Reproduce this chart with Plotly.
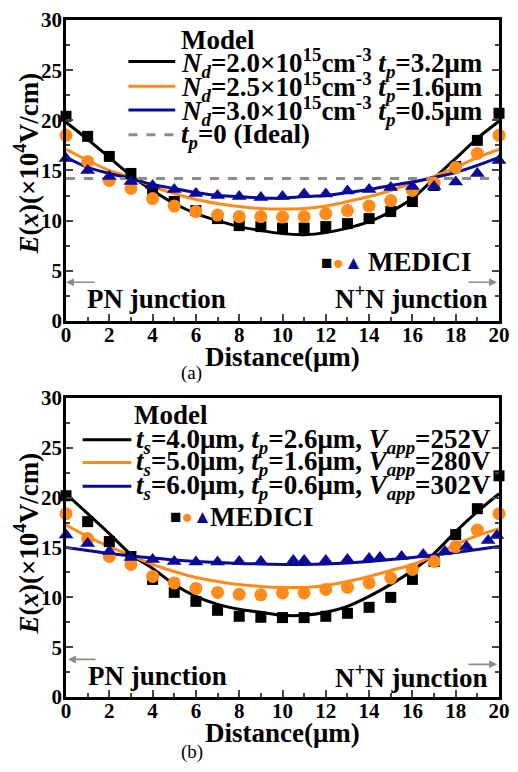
import plotly.graph_objects as go

# ---------------- data ----------------
x_pts = list(range(0, 21))

# (a) MEDICI points
a_med_black = [20.4, 18.4, 16.4, 14.7, 13.0, 11.9, 11.0, 10.2, 9.5, 9.4, 9.25, 9.25, 9.4, 9.7, 10.2, 10.9, 11.9, 13.5, 15.4, 18.0, 20.7]
a_med_orange = [18.5, 15.9, 14.0, 13.2, 12.2, 11.45, 10.9, 10.55, 10.4, 10.4, 10.35, 10.4, 10.7, 11.0, 11.45, 12.0, 13.0, 13.75, 15.3, 16.7, 18.5]
a_med_blue = [16.2, 15.0, 14.4, 13.9, 13.5, 13.1, 12.7, 12.5, 12.4, 12.3, 12.4, 12.65, 12.65, 12.95, 13.1, 13.3, 13.4, 13.4, 13.85, 14.7, 16.0]
# (a) model curves
a_mod_black = [19.8, 18.1, 16.3, 14.5, 13.0, 11.7, 10.7, 10.0, 9.4, 9.0, 8.7, 8.6, 8.8, 9.25, 9.9, 10.9, 12.2, 14.2, 16.2, 18.2, 19.9]
a_mod_orange = [17.1, 16.0, 15.0, 14.3, 13.4, 12.7, 12.1, 11.7, 11.4, 11.2, 11.15, 11.2, 11.45, 11.9, 12.4, 13.0, 13.75, 14.4, 15.3, 16.3, 17.1]
a_mod_blue = [16.3, 15.3, 14.7, 14.2, 13.6, 13.2, 12.8, 12.5, 12.4, 12.25, 12.25, 12.4, 12.5, 12.8, 13.1, 13.5, 13.85, 14.3, 14.8, 15.5, 16.3]
ideal_x = [0, 20]
ideal_y = [14.2, 14.2]

# (b) MEDICI points
b_med_black = [20.2, 17.6, 15.6, 14.1, 11.8, 10.5, 9.6, 8.7, 8.1, 8.0, 7.97, 7.97, 8.1, 8.4, 9.0, 10.0, 11.8, 13.6, 16.3, 18.9, 22.2]
b_med_orange = [18.4, 15.9, 14.1, 13.3, 12.1, 11.45, 10.9, 10.5, 10.3, 10.25, 10.45, 10.45, 10.8, 11.0, 11.45, 11.95, 12.8, 13.6, 15.1, 16.75, 18.4]
b_med_blue_x = [0, 1, 2, 3, 4, 5, 6, 7, 8, 9, 10.5, 11, 12, 13, 14, 14.5, 15.5, 16.5, 17.5, 18.5, 19.5, 19.9]
b_med_blue = [16.25, 15.4, 14.6, 14.0, 13.8, 13.6, 13.55, 13.55, 13.6, 13.6, 13.7, 13.7, 13.7, 13.8, 13.9, 14.0, 14.1, 14.3, 14.6, 15.1, 15.7, 16.2]
# (b) model curves
b_mod_black = [20.4, 18.4, 16.4, 14.3, 12.9, 11.3, 10.1, 9.3, 8.8, 8.5, 8.2, 8.2, 8.5, 9.1, 10.1, 11.3, 12.7, 14.4, 16.6, 18.6, 20.4]
b_mod_orange = [17.25, 16.1, 15.1, 14.2, 13.3, 12.6, 12.0, 11.6, 11.3, 11.1, 11.0, 11.0, 11.2, 11.6, 12.1, 12.7, 13.3, 14.2, 15.3, 16.2, 16.9]
b_mod_blue = [15.0, 14.7, 14.4, 14.15, 13.95, 13.75, 13.6, 13.5, 13.4, 13.35, 13.3, 13.3, 13.35, 13.45, 13.6, 13.8, 14.0, 14.25, 14.5, 14.8, 15.1]

legend_a = [
    "<i>N</i><sub><i>d</i></sub>=2.0×10<sup>15</sup>cm<sup>-3</sup> <i>t</i><sub><i>p</i></sub>=3.2μm",
    "<i>N</i><sub><i>d</i></sub>=2.5×10<sup>15</sup>cm<sup>-3</sup> <i>t</i><sub><i>p</i></sub>=1.6μm",
    "<i>N</i><sub><i>d</i></sub>=3.0×10<sup>15</sup>cm<sup>-3</sup> <i>t</i><sub><i>p</i></sub>=0.5μm",
    "<i>t</i><sub><i>p</i></sub>=0 (Ideal)",
]
legend_b = [
    "<i>t</i><sub><i>s</i></sub>=4.0μm, <i>t</i><sub><i>p</i></sub>=2.6μm, <i>V</i><sub><i>app</i></sub>=252V",
    "<i>t</i><sub><i>s</i></sub>=5.0μm, <i>t</i><sub><i>p</i></sub>=1.6μm, <i>V</i><sub><i>app</i></sub>=280V",
    "<i>t</i><sub><i>s</i></sub>=6.0μm, <i>t</i><sub><i>p</i></sub>=0.6μm, <i>V</i><sub><i>app</i></sub>=302V",
]

BLACK = "#000000"
ORANGE = "#FF8C1A"
BLUE = "#0A0A9A"
GRAY = "#8C8C8C"
FONT = "Liberation Serif"

fig = go.Figure()

def add_panel(xa, ya, mods, meds, ideal=None):
    for yv, col in mods:
        fig.add_trace(go.Scatter(x=x_pts, y=yv, mode="lines", line=dict(color=col, width=3, shape="spline", smoothing=0.8),
                                 xaxis=xa, yaxis=ya, showlegend=False, hoverinfo="skip"))
    if ideal is not None:
        fig.add_trace(go.Scatter(x=ideal_x, y=ideal_y, mode="lines", line=dict(color=GRAY, width=3, dash="dash"),
                                 xaxis=xa, yaxis=ya, showlegend=False))
    for xv, yv, col, sym, sz in meds:
        fig.add_trace(go.Scatter(x=xv, y=yv, mode="markers", marker=dict(color=col, symbol=sym, size=sz),
                                 xaxis=xa, yaxis=ya, showlegend=False, cliponaxis=False))

add_panel("x", "y",
          [(a_mod_black, BLACK), (a_mod_orange, ORANGE), (a_mod_blue, BLUE)],
          [(x_pts, a_med_black, BLACK, "square", 11), (x_pts, a_med_orange, ORANGE, "circle", 13),
           (x_pts, a_med_blue, BLUE, "triangle-up", 13)], ideal=True)
add_panel("x2", "y2",
          [(b_mod_black, BLACK), (b_mod_orange, ORANGE), (b_mod_blue, BLUE)],
          [(x_pts, b_med_black, BLACK, "square", 11), (x_pts, b_med_orange, ORANGE, "circle", 13),
           (b_med_blue_x, b_med_blue, BLUE, "triangle-up", 13)])

H = 772
T, B, L, R = 13, 75, 66, 8
PH = H - T - B
PW = 518 - L - R

def py(p):  # pixel y -> paper
    return (H - B - p) / PH

def px(p):
    return (p - L) / PW

xax = dict(range=[0, 20], dtick=2, tick0=0, ticks="inside", ticklen=7, tickwidth=2, showline=True, linewidth=2.5,
           linecolor="black", mirror=True, showgrid=False, zeroline=False, ticklabelstandoff=-7,
           tickfont=dict(family=FONT, size=21, color="black", weight="bold"),
           minor=dict(ticks="inside", ticklen=4, tickwidth=2, dtick=1, showgrid=False))
yax = dict(range=[0, 30], dtick=5, tick0=0, ticks="inside", ticklen=7, tickwidth=2, showline=True, linewidth=2.5,
           linecolor="black", mirror="ticks", showgrid=False, zeroline=False, ticklabelstandoff=-3,
           tickfont=dict(family=FONT, size=21, color="black", weight="bold"),
           minor=dict(ticks="inside", ticklen=4, tickwidth=2, dtick=2.5, showgrid=False))

top_dom = [py(317), 1.0]
bot_dom = [0.0, py(395)]

fig.update_layout(
    width=518, height=H, margin=dict(l=L, r=R, t=T, b=B),
    paper_bgcolor="white", plot_bgcolor="white", showlegend=False,
    xaxis=dict(xax, anchor="y"), yaxis=dict(yax, domain=top_dom, anchor="x"),
    xaxis2=dict(xax, anchor="y2"), yaxis2=dict(yax, domain=bot_dom, anchor="x2"),
)

ann = []
shapes = []

def text(x, y, t, size=27, xanchor="left", bold=True, color="black", angle=0):
    ann.append(dict(x=x, y=y, xref="paper", yref="paper", text=t, showarrow=False, xanchor=xanchor,
                    yanchor="middle", textangle=angle,
                    font=dict(family=FONT, size=size, color=color, weight="bold" if bold else "normal")))

def lseg(x0, x1, y, col, dash="solid"):
    shapes.append(dict(type="line", xref="paper", yref="paper", x0=px(x0), x1=px(x1), y0=py(y), y1=py(y),
                       line=dict(color=col, width=3, dash=dash)))

def arrow(xh, xt, y):
    ann.append(dict(x=px(xh), y=py(y), xref="paper", yref="paper", ax=xt - xh, ay=0, text="", showarrow=True,
                    arrowhead=2, arrowsize=1, arrowwidth=1.6, arrowcolor=GRAY))

medici_markers = ("<span style='color:%s'>■</span><span style='color:%s'>●</span><span style='color:%s'>▲</span>"
                  % (BLACK, ORANGE, BLUE))

# ---- panel (a) legend ----
text(px(182), py(33), "Model")
cols = [BLACK, ORANGE, BLUE]
ys_a = [55, 80, 104, 129]
for i, c in enumerate(cols):
    lseg(130, 178, ys_a[i], c)
lseg(130, 178, ys_a[3], GRAY, dash="dash")
for i, t in enumerate(legend_a):
    text(px(182), py(ys_a[i] + 1), t)
text(px(325), py(258), medici_markers, size=19)
text(px(374), py(258), "MEDICI")
text(px(85), py(295), "PN junction")
text(px(501), py(293), "N<sup>+</sup>N junction", xanchor="right")
arrow(66, 96, 278)
arrow(508, 478, 278)
text(0.5, py(353), "Distance(μm)", xanchor="center")
text(px(195), py(370), "(a)", size=19, xanchor="center", bold=False)
text(px(25), py(158), "<i>E</i>(<i>x</i>)(×10<sup>4</sup>V/cm)", xanchor="center", angle=-90)

# ---- panel (b) legend ----
text(px(134), py(412), "Model")
ys_b = [437, 460, 484]
for i, c in enumerate(cols):
    lseg(83, 133, ys_b[i], c)
for i, t in enumerate(legend_b):
    text(px(136), py(ys_b[i] + 1), t)
text(px(171), py(515), medici_markers, size=19)
text(px(212), py(515), "MEDICI")
text(px(86), py(676), "PN junction")
text(px(501), py(676), "N<sup>+</sup>N junction", xanchor="right")
arrow(68, 97, 659)
arrow(508, 478, 664)
text(0.5, py(733), "Distance(μm)", xanchor="center")
text(px(195), py(753), "(b)", size=19, xanchor="center", bold=False)
text(px(25), py(542), "<i>E</i>(<i>x</i>)(×10<sup>4</sup>V/cm)", xanchor="center", angle=-90)

fig.update_layout(annotations=ann, shapes=shapes)
fig.write_html("out.html", config={"displayModeBar": False},
               post_script="document.body.style.margin='0px';document.body.style.overflow='hidden';")
